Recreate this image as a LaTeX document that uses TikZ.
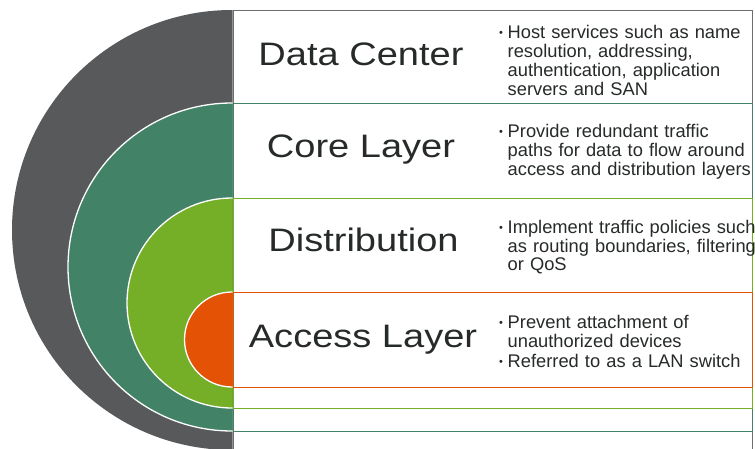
\documentclass[tikz,border=0pt]{standalone}
\usepackage{fontspec}
\setmainfont{Liberation Sans}
\usepackage{graphicx}

\definecolor{dcgrey}{HTML}{58595B}
\definecolor{dcline}{HTML}{6D6E70}
\definecolor{coreteal}{HTML}{428266}
\definecolor{distgreen}{HTML}{74AF27}
\definecolor{accorange}{HTML}{E35205}
\definecolor{ink}{HTML}{262A29}

% one bullet point with a hanging indent
\newcommand\bpoint[1]{\par\hangindent=8.5pt\hangafter=1\noindent
  \makebox[8.5pt][l]{\raisebox{2pt}{\fontsize{11}{11}\selectfont\textbullet}}#1\par}

\tikzset{
  halfdisc/.style={draw=white, line width=1.3pt},
  band/.style={draw=#1, fill=white, line width=1.4pt, anchor=north west,
               inner sep=0pt, minimum width=519pt},
  layername/.style={text=ink, inner sep=0pt, anchor=base,
               font=\fontsize{32.5}{36}\selectfont},
  notes/.style={text=ink, inner sep=0pt, anchor=north west,
               text width=320pt,
               font=\fontsize{18.3}{18.9}\selectfont\raggedright},
}

\begin{document}
\begin{tikzpicture}[x=1pt, y=-1pt]
  \useasboundingbox (0,0) rectangle (755,449);
  \clip (0,0) rectangle (755,449);

  % nested half discs on the left
  \begin{scope}
    \clip (0,0) rectangle (232.5,449);
    \fill[dcgrey] (232,230) circle[radius=220];
    \filldraw[halfdisc, fill=coreteal] (232,267) circle[radius=164];
    \filldraw[halfdisc, fill=distgreen] (232,303) circle[radius=105];
    \filldraw[halfdisc, fill=accorange] (232,339.5) circle[radius=47.5];
  \end{scope}

  % nested framed bands on the right
  \node[band=dcline, minimum height=440pt] (dcbox) at (232.5,10) {};
  \node[band=coreteal, minimum height=328pt] (corebox) at (232.5,103) {};
  \node[band=distgreen, minimum height=210pt] (distbox) at (232.5,198) {};
  \node[band=accorange, minimum height=95pt] (accbox) at (232.5,292) {};

  % layer names
  \node[layername] (dcname) at (361,66) {\scalebox{1.17}[1]{Data Center}};
  \node[layername] (corename) at (361,157.3) {\scalebox{1.17}[1]{Core Layer}};
  \node[layername] (distname) at (363.5,251.7) {\scalebox{1.17}[1]{Distribution}};
  \node[layername] (accname) at (363,347) {\scalebox{1.17}[1]{Access Layer}};

  % descriptions
  \node[notes] (dcnotes) at (499,19.5) {\bpoint{Host services such as name\newline
    resolution, addressing,\newline authentication, application\newline servers and SAN}};
  \node[notes] (corenotes) at (499,118.7) {\bpoint{Provide redundant traffic\newline
    paths for data to flow around\newline access and distribution layers}};
  \node[notes] (distnotes) at (499,214) {\bpoint{Implement traffic policies such\newline
    as routing boundaries, filtering\newline or QoS}};
  \node[notes] (accnotes) at (499,309.7) {\bpoint{Prevent attachment of\newline
    unauthorized devices}\vspace{1pt}\bpoint{Referred to as a LAN switch}};
\end{tikzpicture}
\end{document}
